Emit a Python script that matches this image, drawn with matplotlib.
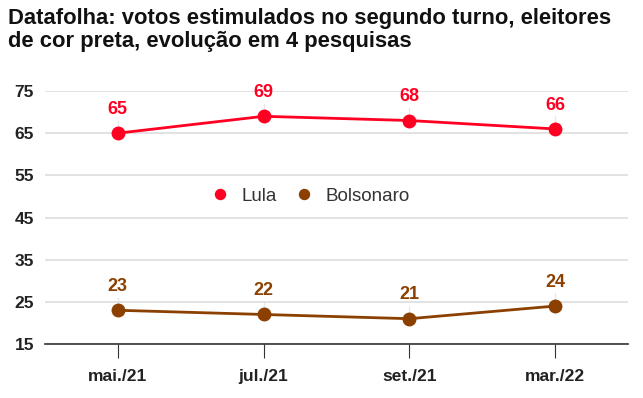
import matplotlib
matplotlib.use('Agg')
import matplotlib.pyplot as plt

meses = ['mai./21', 'jul./21', 'set./21', 'mar./22']
lula = [65, 69, 68, 66]
bolsonaro = [23, 22, 21, 24]
y_ticks = [15, 25, 35, 45, 55, 65, 75]

cor_lula = '#ff0022'
cor_bolso = '#8b4000'
fonte = 'Liberation Sans'

fig = plt.figure(figsize=(6.43, 3.98), dpi=100)
ax = fig.add_axes([45 / 643, 1 - 344 / 398, 583 / 643, 253 / 398])

x = list(range(len(meses)))
for serie, cor, nome in [(lula, cor_lula, 'Lula'), (bolsonaro, cor_bolso, 'Bolsonaro')]:
    ax.plot(x, serie, color=cor, lw=2, marker='o', ms=9, label=nome, zorder=3)
    for xi, v in zip(x, serie):
        ax.plot([xi, xi], [v + 1.2, v + 3.0], color='#e6e6e6', lw=0.8, zorder=1)
        ax.annotate(str(v), (xi, v), xytext=(0, 11), textcoords='offset points',
                    ha='center', va='bottom', color=cor, fontsize=13,
                    fontweight='bold', family=fonte)

ax.set_xlim(-0.5, 3.5)
ax.set_ylim(15, 75)
ax.set_yticks(y_ticks)
ax.set_xticks(x)
ax.set_xticklabels(meses)
ax.grid(axis='y', color='#dddddd', lw=1.2, zorder=0)
for s in ['top', 'right', 'left']:
    ax.spines[s].set_visible(False)
ax.spines['bottom'].set_color('#333333')
ax.spines['bottom'].set_linewidth(1.2)
ax.tick_params(axis='y', length=0, pad=8, labelsize=12.5)
ax.tick_params(axis='x', length=10, color='#333333', pad=8, labelsize=12.5)
for lab in ax.get_xticklabels() + ax.get_yticklabels():
    lab.set_fontweight('bold')
    lab.set_family(fonte)
    lab.set_color('#222222')

leg = ax.legend(loc='center', bbox_to_anchor=(0.447, 0.585), ncol=2, frameon=False,
                handletextpad=0.15, columnspacing=0.45, markerscale=0.8,
                prop={'family': fonte, 'size': 13.5})
for h in leg.legend_handles:
    h.set_linestyle('none')
for t in leg.get_texts():
    t.set_color('#333333')

fig.text(8 / 643, 1 - 8 / 398, 'Datafolha: votos estimulados no segundo turno, eleitores\nde cor preta, evolução em 4 pesquisas',
         ha='left', va='top', fontsize=15.8, fontweight='bold', family=fonte,
         linespacing=1.1, color='#111111')

fig.savefig('out.png', dpi=100)
